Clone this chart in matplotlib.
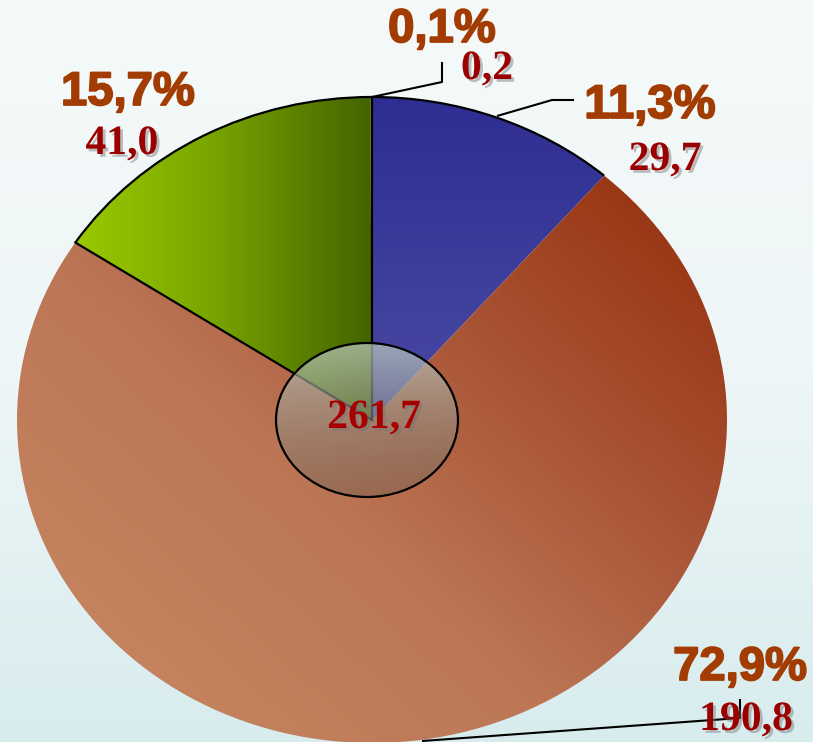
import numpy as np
import matplotlib
matplotlib.use("Agg")
import matplotlib.pyplot as plt
from matplotlib.colors import LinearSegmentedColormap
from matplotlib.patches import Ellipse, Arc
import matplotlib.patheffects as pe

# ---- data (clockwise from top) ----
categories = ["A", "B", "C", "D"]
values = [29.7, 190.8, 41.0, 0.2]
value_labels = ["29,7", "190,8", "41,0", "0,2"]
pct_labels = ["11,3%", "72,9%", "15,7%", "0,1%"]
total_label = "261,7"

W, H = 813, 742
CX, CY, RX, RY = 372, 420, 355, 323

def px(x, y):
    return ((x - CX) / RX, (CY - y) / RY)

fig = plt.figure(figsize=(W / 100, H / 100), dpi=100)

# background gradient
axbg = fig.add_axes([0, 0, 1, 1], zorder=0)
bgc = LinearSegmentedColormap.from_list("bg", ["#f5f9f9", "#eef6f7", "#d8ecee"])
axbg.imshow(np.linspace(0, 1, 256).reshape(-1, 1), cmap=bgc, aspect="auto",
            extent=[0, 1, 0, 1], origin="upper")
axbg.set_axis_off()

ax = fig.add_axes([0, 0, 1, 1], zorder=1)
ax.patch.set_alpha(0)

wedges, _ = ax.pie(values, startangle=90, counterclock=False, radius=1,
                   colors=["#3a3a9a", "#b06040", "#77a000", "#446600"],
                   wedgeprops=dict(linewidth=0, edgecolor="none"))

# gradient fills clipped to wedges
n = 400
gx, gy = np.meshgrid(np.linspace(-1, 1, n), np.linspace(1, -1, n))
grads = [
    (1 - gy) / 2.0,                                  # blue: vertical
    np.clip(((-gx - gy) + 1.6) / 3.0, 0, 1),         # orange: diagonal
    (gx + 1) / 1.05,                                 # green: horizontal
    np.ones_like(gx),
]
cmaps = [
    LinearSegmentedColormap.from_list("b", ["#2e2e92", "#4a4aa4", "#7676c6"]),
    LinearSegmentedColormap.from_list("o", ["#96320f", "#a85234", "#bc7656", "#c4825e"]),
    LinearSegmentedColormap.from_list("g", ["#a8d800", "#7aa800", "#3e5c00"]),
    LinearSegmentedColormap.from_list("d", ["#3e5c00", "#3e5c00"]),
]
for w, g, cm in zip(wedges, grads, cmaps):
    im = ax.imshow(g, cmap=cm, vmin=0, vmax=1, extent=[-1, 1, -1, 1],
                   aspect="auto", origin="upper", zorder=2, interpolation="bilinear")
    im.set_clip_path(w)
    w.set_alpha(0)

# outlines
blue, orange, green, tiny = wedges
lk = dict(color="black", lw=1.6, zorder=4)
ax.plot([0, 0], [0, 1], **lk)
a = np.deg2rad(orange.theta1)
ax.plot([0, np.cos(a)], [0, np.sin(a)], **lk)
ax.add_patch(Arc((0, 0), 2, 2, theta1=blue.theta1, theta2=blue.theta2, **lk))
ax.add_patch(Arc((0, 0), 2, 2, theta1=90, theta2=orange.theta1 + 360, **lk))

# center ellipse overlay
ec = px(367, 420)
ell = Ellipse(ec, 182 / RX, 154 / RY, facecolor="none", edgecolor="black", lw=1.6, zorder=6)
ax.add_patch(ell)
top = np.array([190, 205, 195, 0.72 * 255]) / 255
bot = np.array([105, 95, 85, 0.38 * 255]) / 255
t = np.linspace(0, 1, 256).reshape(-1, 1, 1)
ov = top * (1 - t) + bot * t
ov = np.repeat(ov, 2, axis=1)
x0, x1 = ec[0] - 91 / RX, ec[0] + 91 / RX
y0, y1 = ec[1] - 77 / RY, ec[1] + 77 / RY
oim = ax.imshow(ov, extent=[x0, x1, y0, y1], aspect="auto", origin="upper", zorder=5)
oim.set_clip_path(ell)

# leader lines
def poly(pts):
    d = [px(*p) for p in pts]
    ax.plot([p[0] for p in d], [p[1] for p in d], color="black", lw=1.5, zorder=7,
            solid_capstyle="butt")

poly([(372, 97), (442, 82), (442, 62)])
poly([(497, 116), (552, 100), (574, 100)])
poly([(422, 741), (740, 718), (740, 699)])

# labels
pct_color = "#a23c02"
shadow = [pe.withSimplePatchShadow(offset=(2, -2), shadow_rgbFace=(0.45, 0.45, 0.45), alpha=0.45)]
thick = [pe.Stroke(linewidth=1.3, foreground=pct_color), pe.Normal()]
pct_pos = [(650, 118), (740, 680), (128, 105), (442, 42)]
val_pos = [(665, 170), (746, 730), (122, 154), (487, 79)]
for s, (x, y) in zip(pct_labels, pct_pos):
    ax.text(*px(x, y), s, ha="center", va="baseline", fontsize=34, fontweight="bold",
            family="Liberation Sans", color=pct_color, zorder=8, path_effects=thick)
for s, (x, y) in zip(value_labels, val_pos):
    ax.text(*px(x, y), s, ha="center", va="baseline", fontsize=30, fontweight="bold",
            family="Liberation Serif", color="#9a0000", zorder=8, path_effects=shadow)
ax.text(*px(374, 428), total_label, ha="center", va="baseline", fontsize=30, fontweight="bold",
        family="Liberation Serif", color="#a80000", zorder=8, path_effects=shadow)

ax.set_aspect("auto")
ax.set_xlim(-CX / RX, (W - CX) / RX)
ax.set_ylim(-(H - CY) / RY, CY / RY)
ax.set_axis_off()

fig.savefig("out.png", dpi=100)
